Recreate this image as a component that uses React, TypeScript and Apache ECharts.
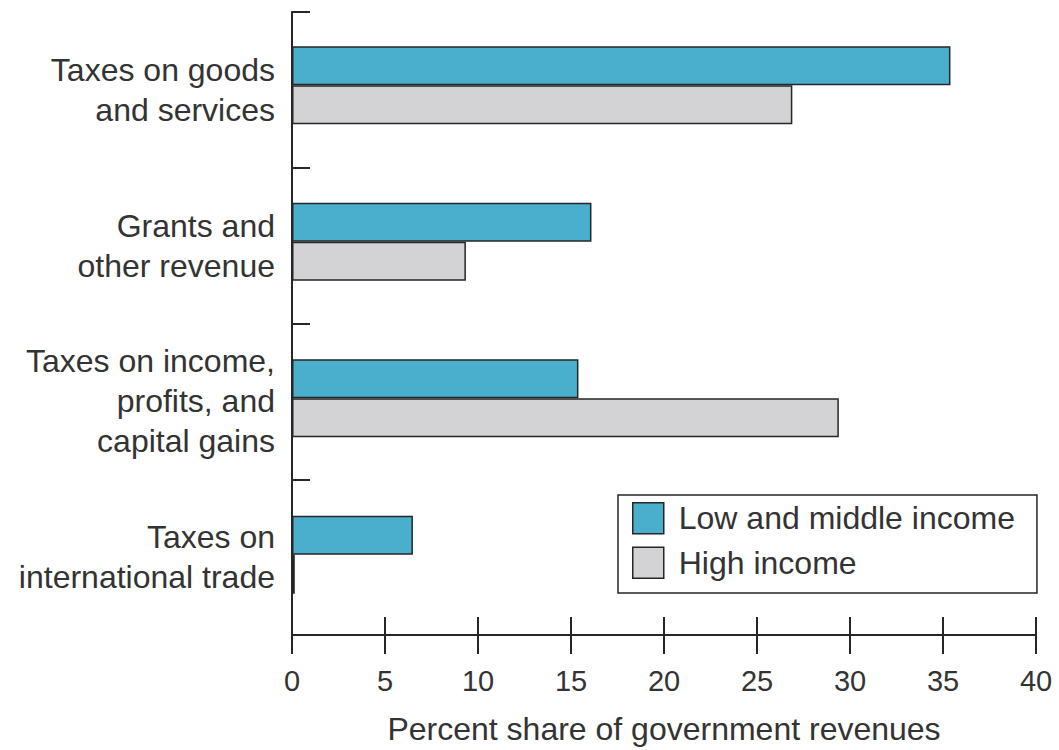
import React, { useEffect, useRef } from "react";
import * as echarts from "echarts";

const categories = [
  "Taxes on goods\nand services",
  "Grants and\nother revenue",
  "Taxes on income,\nprofits, and\ncapital gains",
  "Taxes on\ninternational trade",
];
const lowMiddle = [35.4, 16.1, 15.4, 6.5];
const highIncome = [26.9, 9.35, 29.4, 0.15];
const seriesNames = ["Low and middle income", "High income"];
const xTicks = { min: 0, max: 40, interval: 5 };
const xTitle = "Percent share of government revenues";

const FONT = '"Liberation Sans", Arial, Helvetica, sans-serif';
const TEXT = "#333333";
const LINE = "#262626";
const BLUE = "#4aafcd";
const GRAY = "#d3d3d5";

export default function App() {
  const ref = useRef<HTMLDivElement>(null);
  useEffect(() => {
    document.body.style.margin = "0";
    if (!ref.current) return;
    const chart = echarts.init(ref.current, null, { renderer: "svg" });
    chart.setOption({
      animation: false,
      backgroundColor: "#ffffff",
      textStyle: { fontFamily: FONT, color: TEXT },
      grid: [
        { left: 292, right: 23, top: 12, bottom: 112 },
        { left: 292, right: 23, top: 7, bottom: 117 },
      ],
      legend: {
        orient: "vertical",
        left: 618,
        top: 495,
        padding: [7, 22, 14, 14],
        itemWidth: 31,
        itemHeight: 31,
        itemGap: 12,
        icon: "rect",
        backgroundColor: "#ffffff",
        borderColor: LINE,
        borderWidth: 1.5,
        borderRadius: 0,
        textStyle: { fontFamily: FONT, fontSize: 32, color: TEXT, padding: [0, 0, 0, 10] },
        data: [
          { name: seriesNames[0], itemStyle: { color: BLUE, borderColor: LINE, borderWidth: 1.5 } },
          { name: seriesNames[1], itemStyle: { color: GRAY, borderColor: LINE, borderWidth: 1.5 } },
        ],
      },
      xAxis: [
        {
          type: "value",
          gridIndex: 0,
          min: xTicks.min,
          max: xTicks.max,
          interval: xTicks.interval,
          position: "bottom",
          splitLine: { show: false },
          axisLine: { show: true, lineStyle: { color: LINE, width: 2 } },
          axisTick: { show: true, inside: false, length: 19, lineStyle: { color: LINE, width: 2 } },
          axisLabel: { show: true, margin: 31, fontSize: 29, color: TEXT, fontFamily: FONT },
          name: xTitle,
          nameLocation: "middle",
          nameGap: 78,
          nameTextStyle: { fontSize: 32, color: TEXT, fontFamily: FONT },
        },
        {
          type: "value",
          gridIndex: 0,
          min: xTicks.min,
          max: xTicks.max,
          interval: xTicks.interval,
          position: "bottom",
          splitLine: { show: false },
          axisLine: { show: false },
          axisTick: { show: true, inside: true, length: 18, lineStyle: { color: LINE, width: 2 } },
          axisLabel: { show: false },
        },
        {
          type: "value",
          gridIndex: 1,
          min: xTicks.min,
          max: xTicks.max,
          interval: xTicks.interval,
          show: false,
        },
      ],
      yAxis: [
        {
          type: "category",
          gridIndex: 0,
          data: categories,
          inverse: true,
          boundaryGap: true,
          axisLine: { show: true, lineStyle: { color: LINE, width: 2 } },
          axisTick: { show: true, inside: true, length: 18, lineStyle: { color: LINE, width: 2 } },
          axisLabel: {
            margin: 17,
            fontSize: 32,
            lineHeight: 40,
            color: TEXT,
            fontFamily: FONT,
            align: "right",
          },
          splitLine: { show: false },
        },
        {
          type: "category",
          gridIndex: 1,
          data: categories,
          inverse: true,
          show: false,
        },
      ],
      series: [
        {
          name: seriesNames[0],
          type: "bar",
          xAxisIndex: 2,
          yAxisIndex: 1,
          data: lowMiddle,
          barWidth: 39,
          barGap: "0%",
          itemStyle: { color: BLUE, borderColor: LINE, borderWidth: 1.5 },
        },
        {
          name: seriesNames[1],
          type: "bar",
          xAxisIndex: 2,
          yAxisIndex: 1,
          data: highIncome,
          barWidth: 39,
          barGap: "0%",
          itemStyle: { color: GRAY, borderColor: LINE, borderWidth: 1.5 },
        },
      ],
    });
    return () => chart.dispose();
  }, []);
  return <div ref={ref} style={{ width: 1059, height: 750 }} />;
}
